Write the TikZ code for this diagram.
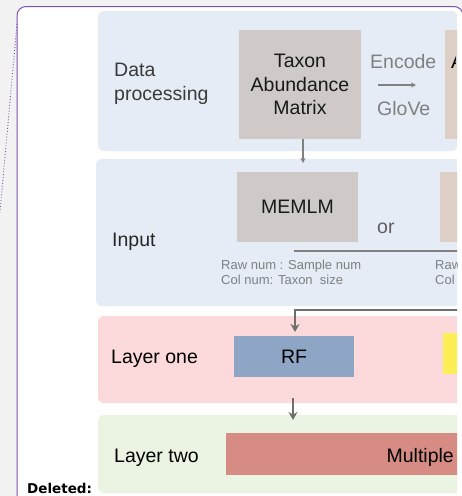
\documentclass[tikz,border=0pt]{standalone}
\usepackage{fontspec}
\setmainfont{Liberation Sans}
\newfontfamily\balloonfont{DejaVu Sans}
\usetikzlibrary{arrows.meta}
\definecolor{pagegray}{HTML}{F2F2F2}
\definecolor{balloon}{HTML}{7B52AE}
\definecolor{panelblue}{HTML}{E5ECF6}
\definecolor{panelpink}{HTML}{FCDADB}
\definecolor{panelgreen}{HTML}{EBF4E2}
\definecolor{greybox}{HTML}{CFCAC8}
\definecolor{peachbox}{HTML}{DDCFC6}
\definecolor{rfblue}{HTML}{8FA5C5}
\definecolor{yellowbox}{HTML}{FCEE55}
\definecolor{multibox}{HTML}{D68C83}
\definecolor{textdark}{HTML}{3A3A3A}
\definecolor{textgrey}{HTML}{808080}
\definecolor{orgrey}{HTML}{5F5F5F}
\definecolor{arrowgrey}{HTML}{6E6E6E}
\tikzset{
  bigtext/.style={font=\fontsize{19.5}{23.5}\selectfont},
  smalltext/.style={font=\fontsize{13}{15}\selectfont, text=textgrey, inner sep=0, anchor=base west},
  label/.style={bigtext, inner sep=0, anchor=base west, align=left},
  box/.style={bigtext, inner sep=0, align=center, anchor=center},
  thinarrow/.style={draw=textgrey, line width=1.2pt, -{Stealth[length=5pt,width=5pt]}},
  thickarrow/.style={draw=arrowgrey, line width=2.6pt, -{Stealth[length=8pt,width=9pt]}},
  panel/.style={rounded corners=6pt}
}
\begin{document}
\begin{tikzpicture}[x=1pt,y=-1pt]
\useasboundingbox (0,0) rectangle (462,496);
\fill[pagegray] (0,0) rectangle (462,496);
% comment balloon
\path[fill=white, draw=balloon, line width=1pt, rounded corners=9pt] (17,6.5) rectangle (463,507);
\coordinate (dotA) at (17,24);
\coordinate (dotB) at (0,212);
\draw[balloon, dotted, line width=0.9pt] (dotA) -- (dotB);
\begin{scope}
\clip (0,0) rectangle (457,496);
% panels
\fill[panelblue, panel] (98,11) rectangle (457.5,151);
\fill[panelblue, panel] (96,159) rectangle (470,306);
\fill[panelpink, panel] (98,316) rectangle (470,403);
\fill[panelgreen, panel] (98,415) rectangle (470,493);
% data processing
\node[label, text=textdark] (lblData) at (114,100) {Data\\processing};
\node[box, fill=greybox, minimum width=122pt, minimum height=109pt, text=black!90] (taxon) at (300,84.5) {Taxon\\Abundance\\Matrix};
\node[box, fill=peachbox, minimum width=30pt, minimum height=109pt, anchor=north west] (peachA) at (445,30) {};
\begin{scope}
\clip (440,0) rectangle (455.5,496);
\node[label, text=black] (peachAtxt) at (451,68) {A};
\end{scope}
\node[label, text=textgrey] (encode) at (370,68) {Encode};
\node[label, text=textgrey] (glove) at (377,115) {GloVe};
\coordinate (encL) at (378,85);
\coordinate (encR) at (416,85);
\draw[thinarrow, line width=1.5pt] (encL) -- (encR);
\coordinate (taxDown) at (303,163);
\draw[thinarrow] ([xshift=3pt]taxon.south) -- (taxDown);
% input
\node[label, text=black!85] (lblInput) at (112,246) {Input};
\node[box, fill=greybox, minimum width=121pt, minimum height=70pt, text=black!90] (memlm) at (297.5,207) {MEMLM};
\node[label, text=orgrey] (or) at (377,233) {or};
\node[box, fill=peachbox, minimum width=30pt, minimum height=70pt, anchor=north west] (peachB) at (440,172) {};
\coordinate (hlineL) at (294,251);
\coordinate (hlineR) at (458,251);
\draw[textgrey, line width=2pt] (hlineL) -- (hlineR);
\node[smalltext] (raw1) at (221,269) {Raw num : Sample num};
\node[smalltext] (col1) at (221,284) {Col num: Taxon\ \ size};
\node[smalltext] (raw2) at (435,269) {Raw};
\node[smalltext] (col2) at (435,284) {Col};
% layer one
\node[label, text=black] (lblOne) at (111,363) {Layer one};
\node[box, fill=rfblue, minimum width=120pt, minimum height=41pt, text=black] (rf) at (294,356.5) {RF};
\node[box, fill=yellowbox, minimum width=30pt, minimum height=41pt, anchor=north west] (yellow) at (443,333) {};
\coordinate (bentStart) at (458,310);
\coordinate (bentEnd) at (295,332);
\draw[thickarrow] (bentStart) -| (bentEnd);
% layer two
\node[label, text=black] (lblTwo) at (114,462) {Layer two};
\node[box, fill=multibox, minimum width=244pt, minimum height=42pt, anchor=north west] (multi) at (226,433) {};
\node[label, text=black, anchor=base east] (multitxt) at (454,462) {Multiple};
\coordinate (layTop) at (293,398);
\coordinate (layBot) at (293,420);
\draw[thickarrow] (layTop) -- (layBot);
\end{scope}
\node[inner sep=0, anchor=base west, font=\balloonfont\bfseries\fontsize{13.5}{15}\selectfont] (deleted) at (27,493) {Deleted:};
\end{tikzpicture}
\end{document}
